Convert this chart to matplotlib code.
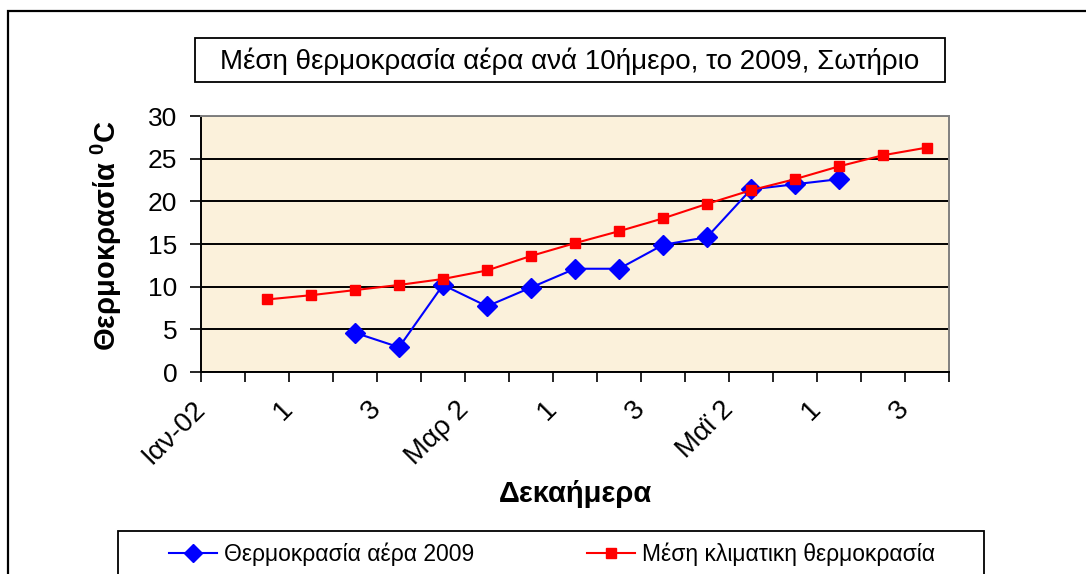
import numpy as np
import matplotlib
matplotlib.use("Agg")
import matplotlib.pyplot as plt
from matplotlib.patches import Rectangle
from matplotlib.lines import Line2D

plt.rcParams['font.family'] = ['Liberation Sans', 'DejaVu Sans']
plt.rcParams['mathtext.fontset'] = 'custom'
plt.rcParams['mathtext.rm'] = 'Liberation Sans'
plt.rcParams['mathtext.bf'] = 'Liberation Sans:bold'

# ---- data ----
n_cats = 17
air_2009 = [np.nan, np.nan, np.nan, 4.6, 2.9, 10.2, 7.7, 9.9, 12.1, 12.1,
            14.9, 15.8, 21.4, 22.0, 22.6, np.nan, np.nan]
climate_mean = [np.nan, 8.5, 9.0, 9.6, 10.2, 10.9, 11.9, 13.6, 15.1, 16.5,
                18.0, 19.7, 21.3, 22.6, 24.1, 25.4, 26.3]
tick_labels = ["Ιαν-02", "1", "3", "Μαρ 2", "1", "3", "Μαϊ 2", "1", "3"]
title = "Μέση θερμοκρασία αέρα ανά 10ήμερο, το 2009, Σωτήριο"
ylabel = "Θερμοκρασία $\\mathbf{^{0}}$C"
xlabel = "Δεκαήμερα"
series_names = ["Θερμοκρασία αέρα 2009", "Μέση κλιματικη θερμοκρασία"]

W, H = 1086, 574
fig = plt.figure(figsize=(W / 100, H / 100), dpi=100)

def fx(px):
    return px / W

def fy(py):
    return 1 - py / H

# outer chart frame
fig.add_artist(Rectangle((fx(8), -0.2), 1.3, fy(11) + 0.2, transform=fig.transFigure,
                         fill=False, edgecolor='black', linewidth=1.6, clip_on=False))

# title box
fig.add_artist(Rectangle((fx(195), fy(82)), fx(945) - fx(195), fy(38) - fy(82),
                         transform=fig.transFigure, fill=False, edgecolor='black',
                         linewidth=1.3))
fig.text(fx(570), fy(61), title, ha='center', va='center', fontsize=20)

# axes
ax = fig.add_axes([fx(201), fy(372), fx(949) - fx(201), fy(116) - fy(372)])
ax.set_facecolor('#FBF1DB')
x = np.arange(n_cats) + 0.5
ax.plot(x, air_2009, color='#0000FF', lw=1.5, marker='D', ms=10.5,
        markeredgecolor='#0000FF', label=series_names[0], zorder=3)
ax.plot(x, climate_mean, color='#FF0000', lw=1.5, marker='s', ms=7.5,
        markeredgecolor='#FF0000', label=series_names[1], zorder=4)

ax.set_xlim(0, n_cats)
ax.set_ylim(0, 30)
ax.set_yticks(np.arange(0, 31, 5))
ax.yaxis.grid(True, color='black', lw=1.4)
ax.set_axisbelow(True)
ax.tick_params(axis='y', direction='out', length=8, width=1.2, pad=9, labelsize=19)

ax.set_xticks(np.arange(0, n_cats + 1))
labs = []
for i in range(n_cats + 1):
    labs.append(tick_labels[i // 2] if i % 2 == 0 and i // 2 < len(tick_labels) else "")
ax.set_xticklabels(labs)
ax.tick_params(axis='x', direction='out', length=7, width=1.2, pad=17, labelsize=20)
for t in ax.get_xticklabels():
    t.set_rotation(45)
    t.set_rotation_mode('anchor')
    t.set_ha('right')
    t.set_va('center')

for s in ['left', 'bottom']:
    ax.spines[s].set_color('black')
    ax.spines[s].set_linewidth(1.4)
for s in ['top', 'right']:
    ax.spines[s].set_color('#808080')
    ax.spines[s].set_linewidth(1.4)

fig.text(fx(106), fy(236), ylabel, rotation=90, ha='center', va='center',
         fontsize=21, fontweight='bold')
fig.text(fx(575), fy(494), xlabel, ha='center', va='center',
         fontsize=21, fontweight='bold')

# legend
fig.add_artist(Rectangle((fx(118), -0.2), fx(984) - fx(118), fy(531) + 0.2,
                         transform=fig.transFigure, fill=False, edgecolor='black',
                         linewidth=1.3, clip_on=False))
h1 = Line2D([], [], color='#0000FF', lw=1.5, marker='D', ms=9)
h2 = Line2D([], [], color='#FF0000', lw=1.5, marker='s', ms=7)
fig.legend([h1, h2], series_names, ncol=2, loc='center left',
           bbox_to_anchor=(fx(169), fy(554)), frameon=False, fontsize=16.5,
           handlelength=2.1, handletextpad=0.3, columnspacing=4.9,
           borderaxespad=0, borderpad=0)

fig.savefig("out.png", dpi=100)
